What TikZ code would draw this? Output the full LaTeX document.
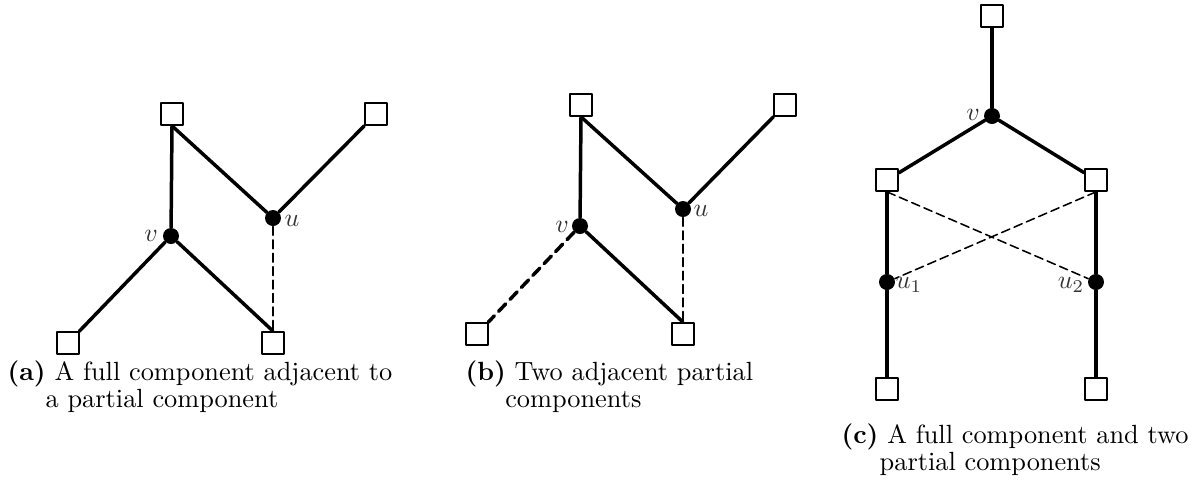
\documentclass[tikz,border=0pt]{standalone}
\begin{document}
\begin{tikzpicture}[x=0.3875pt,y=-0.3875pt,line join=round,line cap=round,
    term/.style={draw,line width=0.8pt,fill=white,minimum size=8.4pt,inner sep=0pt},
    stein/.style={circle,fill=black,minimum size=6.2pt,inner sep=0pt},
    full/.style={line width=1.35pt},
    part/.style={line width=0.6pt,dash pattern=on 3.4pt off 1.8pt},
    fpart/.style={line width=1.35pt,dash pattern=on 4pt off 2.4pt},
    lbl/.style={inner sep=0pt,text=black!80},
    capt/.style={anchor=base west,inner sep=0pt,align=left,
      font=\fontsize{10.2}{10.4}\selectfont}]

  \useasboundingbox (0,0) rectangle (1201,489);

  % ---- (a) una componente piena adiacente a una parziale -------------------
  \node[term] (aT1) at (172,114) {};
  \node[term] (aT2) at (376,114) {};
  \node[term] (aB1) at (68,343) {};
  \node[term] (aB2) at (273,343) {};
  \node[stein] (av) at (171,236) {};
  \node[stein] (au) at (273,218) {};
  \draw[full] (aT1.south) -- (av) -- (aB1);
  \draw[full] (av) -- (aB2.north);
  \draw[full] (aT1.south) -- (au) -- (aT2);
  \draw[part] (au) -- (aB2.north);
  \node[lbl] at (151,236) {$v$};
  \node[lbl] at (292,221) {$u$};
  % base = riga finale della didascalia
  \node[capt] (capa) at (7,407)
    {\textbf{(a)} A full component adjacent to\\\hspace*{14.8pt}a partial component};

  % ---- (b) due componenti parziali adiacenti -------------------------------
  \node[term] (bT1) at (581,105) {};
  \node[term] (bT2) at (785,105) {};
  \node[term] (bB1) at (477,334) {};
  \node[term] (bB2) at (683,334) {};
  \node[stein] (bv) at (580,226) {};
  \node[stein] (bu) at (683,209) {};
  \draw[full] (bT1.south) -- (bv) -- (bB2.north);
  \draw[fpart] (bv) -- (bB1);
  \draw[full] (bT1.south) -- (bu) -- (bT2);
  \draw[part] (bu) -- (bB2.north);
  \node[lbl] at (562,227) {$v$};
  \node[lbl] at (701,211) {$u$};
  \node[capt] (capb) at (465,407)
    {\textbf{(b)} Two adjacent partial\\\hspace*{15.4pt}components};

  % ---- (c) una componente piena e due parziali -----------------------------
  \node[term] (cT) at (992,16) {};
  \node[term] (cL) at (887,180) {};
  \node[term] (cR) at (1096,180) {};
  \node[term] (cLB) at (887,389) {};
  \node[term] (cRB) at (1096,389) {};
  \node[stein] (cv) at (992,116) {};
  \node[stein] (cu1) at (887,282) {};
  \node[stein] (cu2) at (1096,282) {};
  \draw[full] (cT.south) -- (cv);
  \draw[full] (cv) -- (cL);
  \draw[full] (cv) -- (cR);
  \draw[full] (cL.south) -- (cu1) -- (cLB.north);
  \draw[full] (cR.south) -- (cu2) -- (cRB.north);
  \draw[part] (cL.south) -- (cu2);
  \draw[part] (cR.south) -- (cu1);
  \node[lbl] at (973,115) {$v$};
  \node[lbl] at (909,285) {$u_1$};
  \node[lbl] at (1071,285) {$u_2$};
  \node[capt] (capc) at (841,470)
    {\textbf{(c)} A full component and two\\\hspace*{14.8pt}partial components};

\end{tikzpicture}
\end{document}
